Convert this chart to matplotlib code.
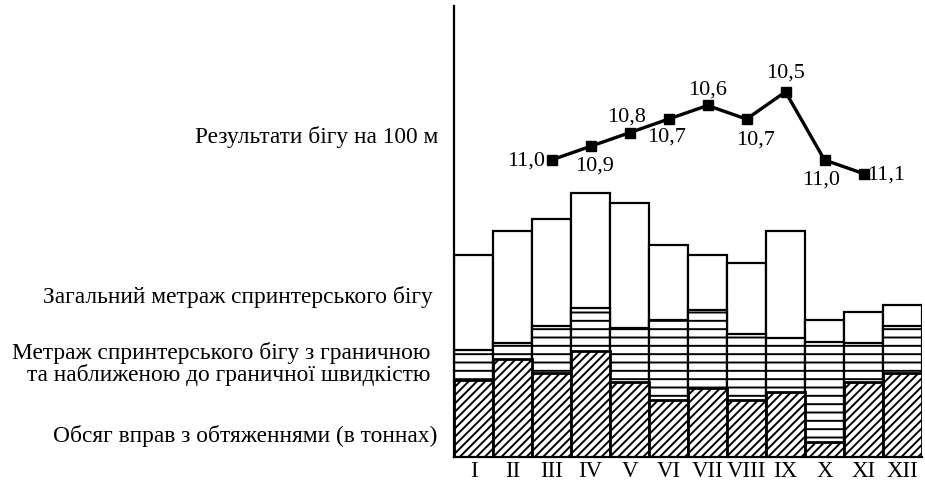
import matplotlib
matplotlib.use("Agg")
import matplotlib.pyplot as plt
import numpy as np

plt.rcParams['font.family'] = ['Liberation Serif', 'DejaVu Serif']
plt.rcParams['hatch.linewidth'] = 1.4
plt.rcParams['hatch.color'] = 'black'

# months
months = ['I', 'II', 'III', 'IV', 'V', 'VI', 'VII', 'VIII', 'IX', 'X', 'XI', 'XII']
# bar heights (relative units)
total_sprint = [202, 226, 238, 264, 254, 212, 202, 194, 226, 137, 145, 152]
fast_sprint = [107, 114, 131, 149, 129, 137, 147, 123, 119, 115, 114, 131]
weights = [77, 98, 84, 106, 75, 57, 69, 57, 65, 15, 75, 84]

# 100 m results, months III..XI
run_months = ['III', 'IV', 'V', 'VI', 'VII', 'VIII', 'IX', 'X', 'XI']
run_times = [11.0, 10.9, 10.8, 10.7, 10.6, 10.7, 10.5, 11.0, 11.1]

fig = plt.figure(figsize=(9.25, 4.81), dpi=100)
ax = fig.add_axes([454 / 925, 1 - 458 / 481, 468 / 925, 451 / 481])

x = np.arange(len(months))
ax.bar(x, total_sprint, width=1.0, color='white', edgecolor='black', linewidth=1.6)
ax.bar(x, fast_sprint, width=1.0, color='white', edgecolor='black', linewidth=1.6, hatch='--')
ax.bar(x, weights, width=1.0, color='white', edgecolor='black', linewidth=2.0, hatch='////')

ax.set_xlim(-0.5, 11.5)
ax.set_ylim(0, 451)
ax.set_yticks([])
ax.set_xticks(x)
ax.set_xticklabels(months, fontsize=16.5)
ax.tick_params(axis='x', length=0, pad=2)
ax.spines['top'].set_visible(False)
ax.spines['right'].set_visible(False)
ax.spines['left'].set_linewidth(1.6)
ax.spines['bottom'].set_linewidth(1.6)

# line of results on its own (inverted) scale
ax2 = ax.twinx()
ax2.set_ylim(13.18, 9.87)
ax2.set_axis_off()
rx = [months.index(m) for m in run_months]
ax2.plot(rx, run_times, color='black', linewidth=2.4, marker='s', markersize=7)

offsets = [(-6, 0, 'right'), (4, -19, 'center'), (-3, 17, 'center'),
           (-2, -17, 'center'), (0, 16, 'center'), (9, -20, 'center'),
           (0, 20, 'center'), (-3, -19, 'center'), (4, 0, 'left')]
for xi, t, (dx, dy, ha) in zip(rx, run_times, offsets):
    ax2.annotate(f"{t:.1f}".replace('.', ','), (xi, t), xytext=(dx, dy),
                 textcoords='offset pixels', ha=ha, va='center', fontsize=16)

# labels on the left
fig.text(438 / 925, 1 - 137 / 481, 'Результати бігу на 100 м', ha='right', va='center', fontsize=16.8)
fig.text(433 / 925, 1 - 297 / 481, 'Загальний метраж спринтерського бігу', ha='right', va='center', fontsize=16.8)
fig.text(430 / 925, 1 - 364 / 481, 'Метраж спринтерського бігу з граничною\nта наближеною до граничної швидкістю',
         ha='right', va='center', fontsize=16.8, multialignment='right', linespacing=0.95)
fig.text(437 / 925, 1 - 436 / 481, 'Обсяг вправ з обтяженнями (в тоннах)', ha='right', va='center', fontsize=16.8)

fig.savefig('out.png', dpi=100)
